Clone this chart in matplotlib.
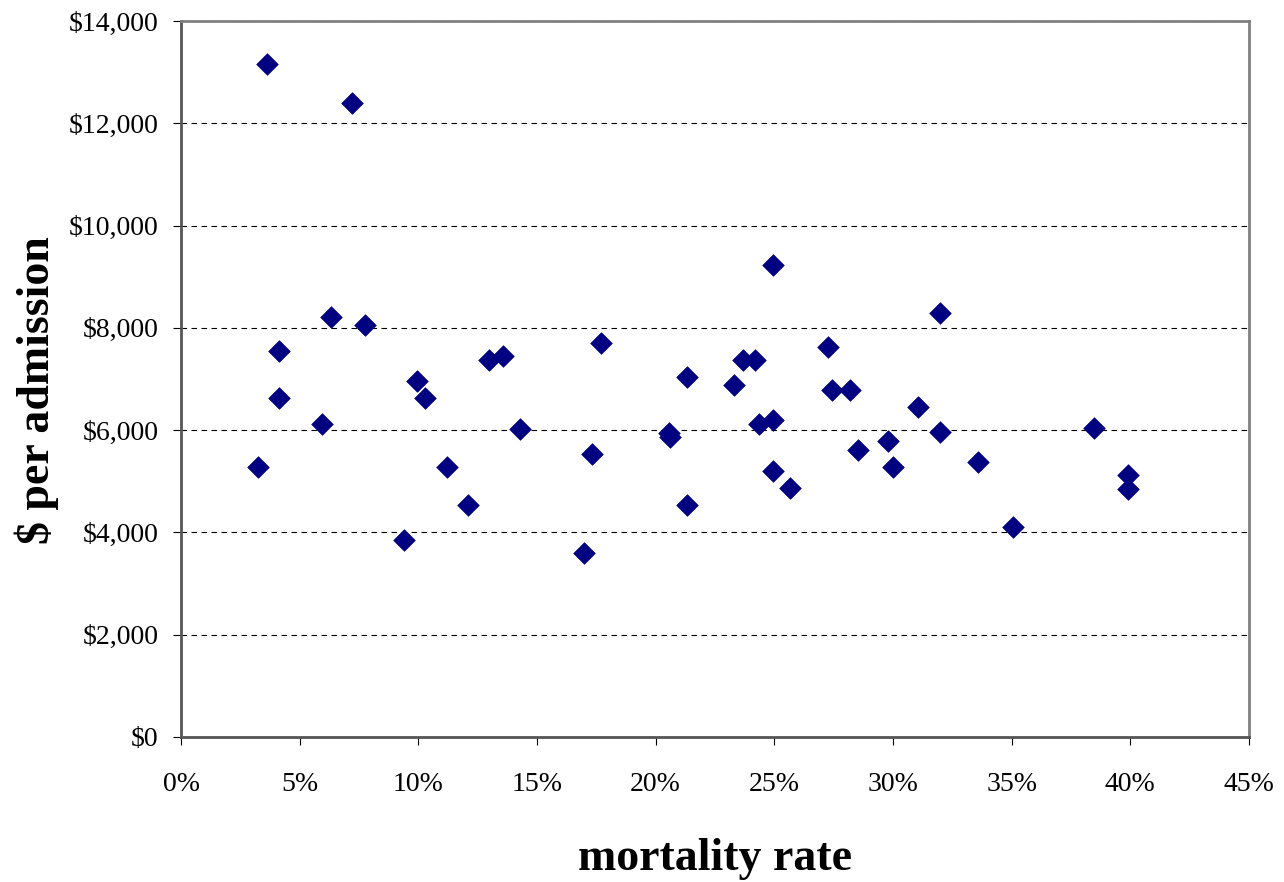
import matplotlib
matplotlib.use("Agg")
import matplotlib.pyplot as plt
from matplotlib.ticker import FuncFormatter, MultipleLocator

# mortality rate (%) and cost per admission ($)
mortality = [3.24, 3.61, 4.14, 4.14, 5.96, 6.32, 7.22, 7.75, 9.38, 9.93,
             10.30, 11.20, 12.09, 12.99, 13.55, 14.27, 16.98, 17.33, 17.70,
             20.55, 20.60, 21.32, 21.32, 23.30, 23.67, 24.20, 24.37, 24.93,
             24.93, 24.93, 25.66, 27.28, 27.45, 28.19, 28.54, 29.80, 29.99,
             31.07, 31.98, 31.98, 33.60, 35.07, 38.47, 39.90, 39.90]
cost = [5280, 13150, 7550, 6620, 6120, 8210, 12400, 8050, 3860, 6960,
        6620, 5280, 4530, 7380, 7450, 6030, 3600, 5530, 7710,
        5950, 5870, 7045, 4530, 6880, 7380, 7380, 6120, 9230,
        6200, 5200, 4860, 7630, 6790, 6790, 5620, 5790, 5280,
        6460, 8300, 5960, 5370, 4110, 6040, 5120, 4850]

plt.rcParams['font.family'] = ['Liberation Serif', 'DejaVu Serif']

fig = plt.figure(figsize=(12.84, 8.82), dpi=100)
ax = fig.add_axes([0.141, 0.1644, 0.8317, 0.8118])

ax.scatter(mortality, cost, marker='D', s=11 ** 2, color='#000080',
           edgecolors='#000080', linewidths=0.5, zorder=3)

ax.set_xlim(0, 45)
ax.set_ylim(0, 14000)
ax.xaxis.set_major_locator(MultipleLocator(5))
ax.yaxis.set_major_locator(MultipleLocator(2000))
ax.xaxis.set_major_formatter(FuncFormatter(lambda v, p: f"{v:.0f}%"))
ax.yaxis.set_major_formatter(FuncFormatter(lambda v, p: f"${v:,.0f}"))

ax.grid(axis='y', color='black', linestyle=(0, (5, 4)), linewidth=0.8)
ax.set_axisbelow(True)

for side in ['top', 'right']:
    ax.spines[side].set_color('#808080')
    ax.spines[side].set_linewidth(2)
for side in ['left', 'bottom']:
    ax.spines[side].set_color('#555555')
    ax.spines[side].set_linewidth(2)

ax.tick_params(axis='x', direction='out', length=6, width=0.8, pad=19,
               labelsize=20, color='black')
ax.tick_params(axis='y', direction='out', length=6, width=0.8, pad=10,
               labelsize=20, color='black')

ax.set_xlabel('mortality rate', fontsize=33, fontweight='bold')
ax.set_ylabel('$ per admission', fontsize=33, fontweight='bold')
ax.xaxis.set_label_coords(0.5, -0.141)
ax.yaxis.set_label_coords(-0.114, 0.485)

fig.savefig('out.png', dpi=100)
